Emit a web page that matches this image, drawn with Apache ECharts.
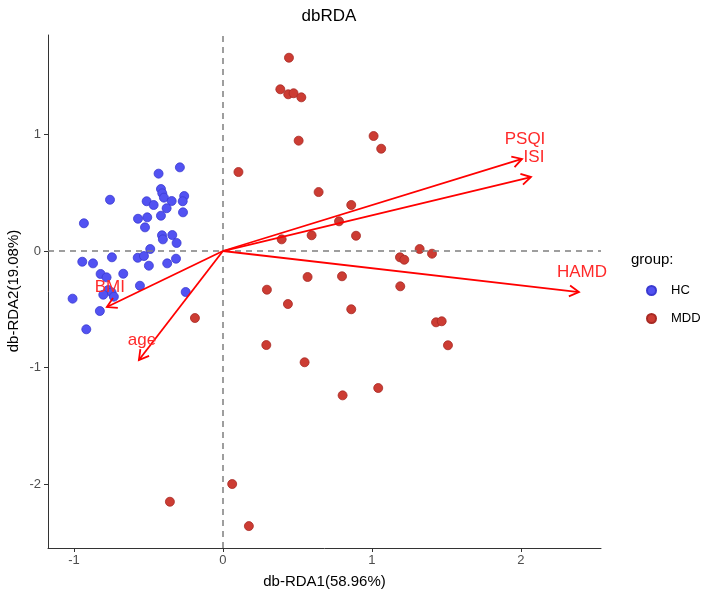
<!DOCTYPE html>
<html><head><meta charset="utf-8">
<script src="https://cdn.jsdelivr.net/npm/echarts@6/dist/echarts.min.js"></script>
<style>html,body{margin:0;padding:0;background:#fff}#c{width:708px;height:596px}</style>
</head><body><div id="c"></div>
<script>
const hcX = [-0.289,-0.432,-0.758,-0.416,-0.407,-0.396,-0.260,-0.270,-0.512,-0.465,-0.344,-0.378,-0.416,-0.268,-0.570,-0.508,-0.523,-0.933,-0.409,-0.403,-0.340,-0.311,-0.488,-0.572,-0.530,-0.497,-0.374,-0.315,-0.745,-0.944,-0.872,-0.821,-0.781,-0.669,-0.557,-0.770,-0.747,-0.732,-0.803,-0.250,-1.009,-0.826,-0.917];
const hcY = [0.718,0.664,0.440,0.532,0.495,0.458,0.472,0.427,0.427,0.395,0.429,0.367,0.303,0.332,0.277,0.289,0.203,0.238,0.135,0.100,0.137,0.069,0.017,-0.058,-0.043,-0.126,-0.106,-0.066,-0.054,-0.092,-0.106,-0.197,-0.226,-0.195,-0.298,-0.335,-0.355,-0.392,-0.375,-0.352,-0.409,-0.515,-0.672];
const mddX = [0.443,0.385,0.438,0.474,0.526,0.508,1.011,1.062,0.104,0.642,0.861,0.779,0.394,0.595,0.893,1.320,1.403,1.188,1.217,0.568,0.799,0.295,1.190,0.436,0.861,1.430,1.468,0.291,1.510,0.548,0.803,1.042,-0.188,0.062,-0.356,0.174];
const mddY = [1.659,1.388,1.345,1.354,1.319,0.947,0.987,0.878,0.678,0.506,0.395,0.255,0.100,0.135,0.131,0.017,-0.023,-0.054,-0.075,-0.223,-0.217,-0.332,-0.303,-0.455,-0.500,-0.612,-0.603,-0.807,-0.809,-0.955,-1.239,-1.176,-0.575,-2.000,-2.152,-2.361];
const envNames = ['PSQI','ISI','HAMD','BMI','age'];
const envX = [2.007,2.067,2.389,-0.779,-0.564];
const envY = [0.790,0.635,-0.352,-0.481,-0.936];
const xTicks = [-1,0,1,2];
const yTicks = [-2,-1,0,1];

const FONT = 'Liberation Sans, Arial, sans-serif';
const chart = echarts.init(document.getElementById('c'));
const zip = (a,b)=>a.map((v,i)=>[v,b[i]]);

chart.setOption({
  animation:false,
  title:{text:'dbRDA',left:324,textAlign:'center',top:3,textStyle:{fontFamily:FONT,fontSize:17,fontWeight:'normal',color:'#000'}},
  grid:{left:48,right:107,top:35,bottom:48,containLabel:false,outerBoundsMode:'none'},
  xAxis:{type:'value',min:-1.174,max:2.537,
    name:'db-RDA1(58.96%)',nameLocation:'middle',nameGap:26,
    nameTextStyle:{fontFamily:FONT,fontSize:15,color:'#000'},
    axisLine:{onZero:false,lineStyle:{color:'#333',width:1}},
    axisTick:{customValues:xTicks,length:4,lineStyle:{color:'#333'}},
    axisLabel:{customValues:xTicks,fontFamily:FONT,fontSize:13,color:'#4d4d4d',margin:6},
    splitLine:{show:false}},
  yAxis:{type:'value',min:-2.549,max:1.854,
    axisLine:{onZero:false,lineStyle:{color:'#333',width:1}},
    axisTick:{customValues:yTicks,length:4,lineStyle:{color:'#333'}},
    axisLabel:{customValues:yTicks,fontFamily:FONT,fontSize:13,color:'#4d4d4d',margin:7},
    splitLine:{show:false}},
  legend:{orient:'vertical',left:641,top:279,itemWidth:9,itemHeight:9,itemGap:15,
    icon:'circle',data:['HC','MDD'],
    textStyle:{fontFamily:FONT,fontSize:13,color:'#000',padding:[0,0,0,10]}},
  graphic:[
    {type:'text',left:631,top:252,style:{text:'group:',font:'15px '+FONT,fill:'#000'}},
    {type:'text',x:14,y:291,rotation:Math.PI/2,style:{text:'db-RDA2(19.08%)',font:'15px '+FONT,fill:'#000',align:'center',verticalAlign:'middle'}}
  ],
  series:[
    {type:'line',data:[],silent:true,
      markLine:{silent:true,symbol:'none',label:{show:false},
        lineStyle:{color:'#7f7f7f',type:[6,5],width:1.5},
        data:[{xAxis:0},{yAxis:0}]}},
    {name:'HC',type:'scatter',data:zip(hcX,hcY),symbolSize:9,
      itemStyle:{color:'#5252f2',borderColor:'#3a3ad0',borderWidth:0.8,opacity:1}},
    {name:'MDD',type:'scatter',data:zip(mddX,mddY),symbolSize:9,
      itemStyle:{color:'#cc3c33',borderColor:'#a82a24',borderWidth:0.8,opacity:1}},
    {type:'custom',silent:true,z:5,
      data:envNames.map((n,i)=>[envX[i],envY[i],n]),
      encode:{x:0,y:1},
      renderItem:function(params,api){
        const o = api.coord([0,0]);
        const t = api.coord([api.value(0),api.value(1)]);
        const name = envNames[params.dataIndex];
        const ang = Math.atan2(t[1]-o[1],t[0]-o[0]);
        const L = 11, a = Math.PI/6;
        const p1 = [t[0]-L*Math.cos(ang-a), t[1]-L*Math.sin(ang-a)];
        const p2 = [t[0]-L*Math.cos(ang+a), t[1]-L*Math.sin(ang+a)];
        const st = {stroke:'#ff0000',lineWidth:1.8,fill:null};
        return {type:'group',children:[
          {type:'line',shape:{x1:o[0],y1:o[1],x2:t[0],y2:t[1]},style:st},
          {type:'polyline',shape:{points:[p1,t,p2]},style:st},
          {type:'text',x:t[0]+3,y:t[1]-20,style:{text:name,font:'17px '+FONT,fill:'#ff2a2a',align:'center',verticalAlign:'middle'}}
        ]};
      }}
  ]
});
</script></body></html>
